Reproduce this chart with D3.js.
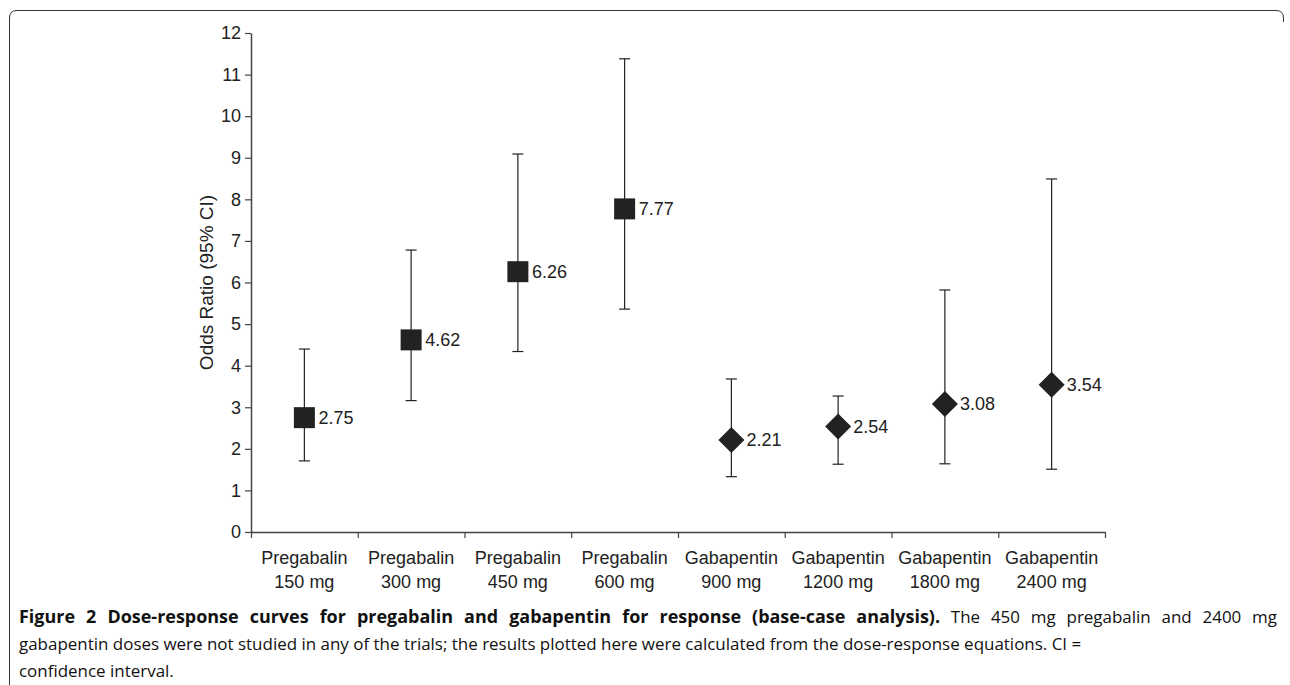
<!DOCTYPE html>
<html>
<head>
<meta charset="utf-8">
<script src="https://cdn.jsdelivr.net/npm/d3@7"></script>
<style>
  body { margin: 0; background: #fff; }
  svg { display: block; }
</style>
</head>
<body>
<svg id="chart"></svg>
<script>
// data
const categories = ["Pregabalin 150 mg", "Pregabalin 300 mg", "Pregabalin 450 mg", "Pregabalin 600 mg",
    "Gabapentin 900 mg", "Gabapentin 1200 mg", "Gabapentin 1800 mg", "Gabapentin 2400 mg"];
const drugs = ["Pregabalin", "Pregabalin", "Pregabalin", "Pregabalin",
    "Gabapentin", "Gabapentin", "Gabapentin", "Gabapentin"];
const doses = ["150 mg", "300 mg", "450 mg", "600 mg", "900 mg", "1200 mg", "1800 mg", "2400 mg"];
const oddsRatio = [2.75, 4.62, 6.26, 7.77, 2.21, 2.54, 3.08, 3.54];
const ciLower = [1.71, 3.16, 4.34, 5.36, 1.33, 1.63, 1.64, 1.51];
const ciUpper = [4.40, 6.78, 9.09, 11.38, 3.68, 3.27, 5.82, 8.49];
const yTicks = [0, 1, 2, 3, 4, 5, 6, 7, 8, 9, 10, 11, 12];

const width = 1290;
const height = 685;
const ink = "#222";
const axisFont = "'Liberation Sans', Arial, Helvetica, sans-serif";

const svg = d3.select("#chart")
    .attr("width", width)
    .attr("height", height);

// frame round the figure
svg.append("path")
    .attr("d", "M9.5,685 V18 Q9.5,10.5 17,10.5 H1276 Q1283.5,10.5 1283.5,18 V22")
    .attr("fill", "none")
    .attr("stroke", "#333")
    .attr("stroke-width", 1);

const x = d3.scaleBand()
    .domain(categories)
    .range([251, 1105])
    .padding(0);

const y = d3.scaleLinear()
    .domain([0, 12])
    .range([532, 33]);

// y axis
const yAxis = svg.append("g")
    .attr("transform", "translate(251,0)")
    .call(d3.axisLeft(y).tickValues(yTicks).tickSize(6).tickSizeOuter(0).tickFormat(d3.format("d")));
yAxis.select(".domain").attr("stroke", "#444").attr("stroke-width", 1.5);
yAxis.selectAll(".tick line").attr("stroke", "#444").attr("stroke-width", 1.2);
yAxis.selectAll(".tick text")
    .attr("x", -10)
    .attr("fill", ink)
    .style("font-family", axisFont)
    .style("font-size", "18px");

// x axis, ticks sit on the band edges
const edges = d3.range(categories.length + 1);
const xEdge = d3.scaleLinear().domain([0, categories.length]).range(x.range());
const xAxis = svg.append("g")
    .attr("transform", `translate(0,${y(0)})`)
    .call(d3.axisBottom(xEdge).tickValues(edges).tickSize(6).tickSizeOuter(0).tickFormat(""));
xAxis.select(".domain").attr("stroke", "#444").attr("stroke-width", 1.5);
xAxis.selectAll(".tick line").attr("stroke", "#444").attr("stroke-width", 1.2);

const labels = svg.append("g")
    .selectAll("text")
    .data(categories)
    .enter().append("text")
    .attr("text-anchor", "middle")
    .attr("fill", ink)
    .style("font-family", axisFont)
    .style("font-size", "18px");
labels.append("tspan")
    .attr("x", d => x(d) + x.bandwidth() / 2)
    .attr("y", 564)
    .text((d, i) => drugs[i]);
labels.append("tspan")
    .attr("x", d => x(d) + x.bandwidth() / 2)
    .attr("y", 588)
    .text((d, i) => doses[i]);

svg.append("text")
    .attr("transform", `translate(213,${(y(0) + y(12)) / 2}) rotate(-90)`)
    .attr("text-anchor", "middle")
    .attr("fill", ink)
    .style("font-family", axisFont)
    .style("font-size", "19px")
    .text("Odds Ratio (95% CI)");

// error bars
const cx = d => x(d) + x.bandwidth() / 2;
const bars = svg.append("g")
    .selectAll("g")
    .data(categories)
    .enter().append("g");
bars.append("line")
    .attr("x1", cx).attr("x2", cx)
    .attr("y1", (d, i) => y(ciLower[i]))
    .attr("y2", (d, i) => y(ciUpper[i]))
    .attr("stroke", ink).attr("stroke-width", 1.2);
bars.append("line")
    .attr("x1", d => cx(d) - 5.5).attr("x2", d => cx(d) + 5.5)
    .attr("y1", (d, i) => y(ciUpper[i]))
    .attr("y2", (d, i) => y(ciUpper[i]))
    .attr("stroke", ink).attr("stroke-width", 1.2);
bars.append("line")
    .attr("x1", d => cx(d) - 5.5).attr("x2", d => cx(d) + 5.5)
    .attr("y1", (d, i) => y(ciLower[i]))
    .attr("y2", (d, i) => y(ciLower[i]))
    .attr("stroke", ink).attr("stroke-width", 1.2);

// markers: squares for pregabalin, diamonds for gabapentin
bars.append("path")
    .attr("transform", (d, i) => `translate(${cx(d)},${y(oddsRatio[i])})`)
    .attr("d", (d, i) => drugs[i] === "Pregabalin"
        ? "M-10.5,-10.5H10.5V10.5H-10.5Z"
        : "M0,-13L13,0L0,13L-13,0Z")
    .attr("fill", ink);

bars.append("text")
    .attr("x", (d, i) => cx(d) + (drugs[i] === "Pregabalin" ? 14 : 15))
    .attr("y", (d, i) => y(oddsRatio[i]))
    .attr("dy", "0.35em")
    .attr("fill", ink)
    .style("font-family", axisFont)
    .style("font-size", "18px")
    .text((d, i) => d3.format(".2f")(oddsRatio[i]));

// caption: a slightly narrowed sans, first line justified
const capFont = "'Open Sans', 'Noto Sans', sans-serif";
const caption = svg.append("g")
    .attr("fill", "#111")
    .style("font-family", capFont)
    .style("font-size", "17px");

const line2 = caption.append("text")
    .attr("y", 650)
    .text("gabapentin doses were not studied in any of the trials; the results plotted here were calculated from the dose-response equations. CI =");
const squeeze = 1063 / line2.node().getComputedTextLength();
caption.attr("transform", `translate(19,0) scale(${squeeze},1)`);

caption.append("text")
    .attr("y", 677)
    .text("confidence interval.");

const boldPart = "Figure 2 Dose-response curves for pregabalin and gabapentin for response (base-case analysis).";
const plainPart = " The 450 mg pregabalin and 2400 mg";
const line1 = caption.append("text").attr("y", 623);
line1.append("tspan").style("font-weight", "bold").style("font-size", "18px").text(boldPart);
line1.append("tspan").text(plainPart);
const target = 1258 / squeeze;
const natural = line1.node().getComputedTextLength();
if (natural > target) {
    line1.attr("textLength", target).attr("lengthAdjust", "spacingAndGlyphs");
} else {
    const gaps = (boldPart + plainPart).split(" ").length - 1;
    line1.style("word-spacing", ((target - natural) / gaps) + "px");
}
</script>
</body>
</html>
